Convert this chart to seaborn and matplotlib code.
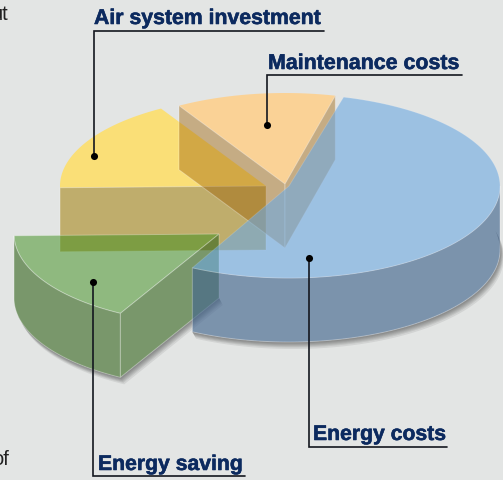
import numpy as np
import pandas as pd
import matplotlib
matplotlib.use("Agg")
import matplotlib.pyplot as plt
import matplotlib.patheffects as pe
from matplotlib.patches import Polygon
import seaborn as sns

# slices, counter-clockwise from the start angle
slice_names = ["Maintenance costs", "Air system investment", "Energy saving", "Energy costs"]
slice_values = [12.4, 16.8, 16.7, 54.1]
start_angle = 76

# label text, text pos, leader line, dot
label_names = ["Air system investment", "Maintenance costs", "Energy costs", "Energy saving"]
label_x = [94, 268, 313, 98]
label_y = [24, 69, 440, 470]
label_size = [15.3, 15.4, 15.25, 15.25]
dot_x = [94, 267, 309, 93.5]
dot_y = [156, 125, 258, 282]
elbow_y = [30.5, 75, 447, 475.5]
line_end_x = [324.5, 462, 447, 245]

# exploded layout of the pie, pixels
centers = {"Maintenance costs": (285, 184), "Air system investment": (266, 186),
           "Energy saving": (219, 234), "Energy costs": (289, 186)}
radius = {"Maintenance costs": (208, 91), "Air system investment": (206, 90),
          "Energy saving": (205, 90.5), "Energy costs": (211, 92)}
depth = 64
bg = "#e3e5e4"

sns.set_theme(style="white")
plt.rcParams["font.family"] = ["Liberation Sans", "DejaVu Sans"]

angles = np.array(slice_values) / sum(slice_values) * 360
t_from = dict(zip(slice_names, start_angle + np.r_[0, np.cumsum(angles)[:-1]]))
t_to = dict(zip(slice_names, start_angle + np.cumsum(angles)))
# blue slice is drawn a bit narrower, small gap at its left corner
t_from["Energy costs"] += 1.5
t_to["Energy costs"] -= 1


def rim(name, a=None, b=None, dy=0):
    a = t_from[name] if a is None else a
    b = t_to[name] if b is None else b
    t = np.radians(np.linspace(a, b, 120))
    cx, cy = centers[name]
    rx, ry = radius[name]
    return np.c_[cx + rx * np.cos(t), cy - ry * np.sin(t) + dy]


def top(name):
    return np.vstack([centers[name], rim(name)])


def cut(name, t):
    p0 = np.array(centers[name], float)
    p1 = rim(name, t, t + 0.001)[0]
    return np.array([p0, p1, p1 + [0, depth], p0 + [0, depth]])


def shell(name, a, b):
    return np.vstack([rim(name, a, b), rim(name, a, b, depth)[::-1]])


def face(ax, pts, rgb, alpha, edge=0.3):
    ax.add_patch(Polygon(pts, closed=True, fc=np.array(rgb) / 255, ec="none", alpha=alpha))
    ax.add_patch(Polygon(pts, closed=True, fc="none", ec=(1, 1, 1, edge), lw=0.7))


def shadow(ax, pts):
    # soft shadow, only outside of the outline
    for k in [1.5, 2.5, 3.5, 4.5, 5.5, 7]:
        moved = pts + [k * 0.55, k]
        ax.add_patch(Polygon(np.vstack([pts, moved[::-1]]), closed=True, fc="black", ec="none", alpha=0.075))


fig, ax = plt.subplots(figsize=(5.03, 4.80), dpi=100)
fig.patch.set_facecolor(bg)
ax.set_position([0, 0, 1, 1])
ax.set_facecolor(bg)
ax.set_xlim(0, 503)
ax.set_ylim(480, 0)
ax.axis("off")

M, A, S, E = slice_names

# shadows first
shadow(ax, rim(E, t_from[E], 372, depth))
shadow(ax, np.vstack([rim(S, t_from[S] + 10, t_to[S], depth), np.array(centers[S]) + [0, depth]]))

# air system
face(ax, top(A), (255, 222, 100), 0.85, 0)
face(ax, cut(A, t_to[A]), (163, 127, 10), 0.55)

# maintenance
face(ax, top(M), (255, 207, 137), 0.85, 0)
face(ax, cut(M, t_to[M]), (156, 93, 0), 0.42)
face(ax, cut(M, t_from[M]), (156, 93, 0), 0.42)

# energy saving
face(ax, top(S), (60, 143, 28), 0.5)
face(ax, shell(S, t_from[S], t_to[S]), (50, 100, 27), 0.6)
face(ax, cut(S, t_to[S]), (50, 100, 27), 0.6)

# energy costs goes on top of the others
face(ax, shell(E, t_from[E], 360), (68, 103, 143), 0.65)
face(ax, top(E), (110, 169, 226), 0.6, 0.15)

# leaders
for i, name in enumerate(label_names):
    ax.plot([dot_x[i], dot_x[i], line_end_x[i]], [dot_y[i], elbow_y[i], elbow_y[i]],
            color="#14171f", lw=1.2, solid_joinstyle="miter", zorder=5)
    ax.text(label_x[i], label_y[i], name, color="#0c2a5f", fontsize=label_size[i], fontweight="bold",
            va="baseline", ha="left", zorder=6,
            path_effects=[pe.withStroke(linewidth=0.4, foreground="#0c2a5f")])

dots = pd.DataFrame({"x": dot_x, "y": dot_y})
sns.scatterplot(data=dots, x="x", y="y", color="black", s=26, linewidth=0, ax=ax, zorder=6, clip_on=False)
ax.set_xlim(0, 503)
ax.set_ylim(480, 0)

# bits of body text cut off by the crop
ax.text(-8, 20, "ut", color="#222222", fontsize=14.5, va="baseline", ha="left")
ax.text(-8, 465, "of", color="#222222", fontsize=14.5, va="baseline", ha="left")

fig.savefig("out.png", dpi=100, facecolor=bg)
